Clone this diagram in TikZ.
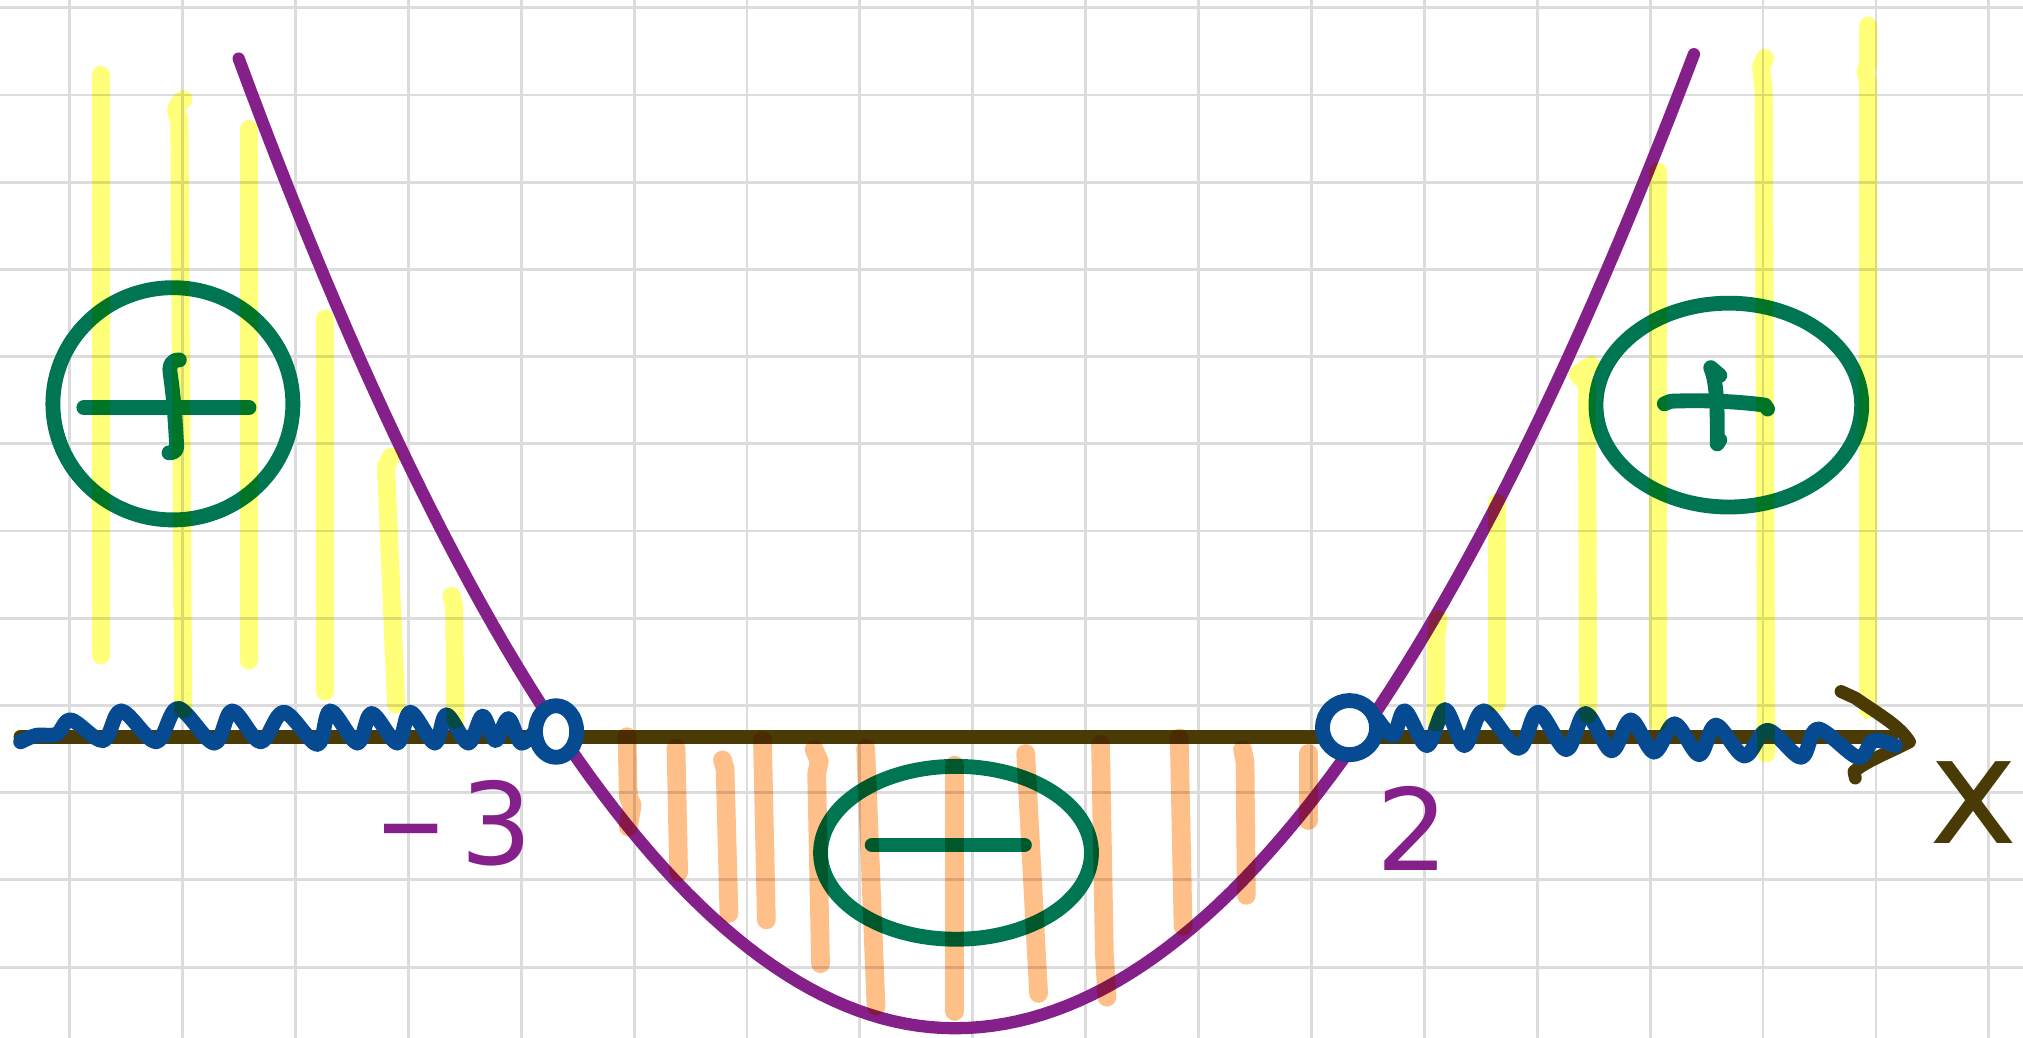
\documentclass[tikz,border=0pt]{standalone}
\usepackage{fontspec}
\newfontfamily\handfont{DejaVu Sans}
\definecolor{gridc}{HTML}{DCDCDC}
\definecolor{axisc}{HTML}{4A3A05}
\definecolor{parab}{HTML}{85208A}
\definecolor{signc}{HTML}{007552}
\definecolor{wavec}{HTML}{064A91}
\definecolor{hlyellow}{HTML}{FFFF7A}
\definecolor{hlorange}{HTML}{FFBF88}
\begin{document}
\begin{tikzpicture}[x=0.01cm,y=-0.01cm, line cap=round, line join=round,
  gridline/.style={gridc, line width=0.022cm},
  axisline/.style={axisc, line width=0.11cm},
  curve/.style={parab, line width=0.095cm},
  sign/.style={signc, line width=0.115cm},
  wave/.style={wavec, line width=0.115cm},
  hly/.style={hlyellow, line width=0.14cm},
  hlo/.style={hlorange, line width=0.145cm},
  lbl/.style={font=\handfont\fontsize{25}{25}\selectfont, inner sep=0pt}]
\fill[white] (0,0) rectangle (1568,804);
\useasboundingbox (0,0) rectangle (1568,804);
% grid
\foreach \gx in {0,...,17} \draw[gridline] ({54+87.5*\gx},0) -- ({54+87.5*\gx},804);
\foreach \gy in {0,...,11} \draw[gridline] (0,{6+67.6*\gy}) -- (1568,{6+67.6*\gy});
% axis
\coordinate (axL) at (16,571);
\coordinate (axR) at (1466,571);
\draw[axisline] (axL) -- (axR);
\draw[axisline, line width=0.10cm] (1427,536) -- (1438,541) .. controls (1455,553) and (1472,562) .. (1480,575)
  .. controls (1465,583) and (1448,589) .. (1437,598) -- (1438,603);
% parabola
\draw[curve] plot[domain=-5.55:0, samples=60] ({740+100*\x},{797-24.4*\x*\x})
  -- plot[domain=0:5.73, samples=60] ({740+100*\x},{797-23*\x*\x});
% signs
\draw[sign] (134,313) ellipse [x radius=93, y radius=90];
\draw[sign] (65,316) -- (193,316);
\draw[sign] (139,279) .. controls (132,279) and (131,284) .. (132,290)
  .. controls (135,310) and (136,330) .. (137,346) .. controls (137,350) and (134,351) .. (131,351);
\draw[sign] (741,661) ellipse [x radius=105, y radius=67];
\draw[sign] (676,655) -- (794,655);
\draw[sign] (1340,314) ellipse [x radius=103, y radius=79];
\draw[sign] (1290,313) -- (1295,311) .. controls (1320,310) and (1345,311) .. (1368,314) -- (1370,317);
\draw[sign] (1333,291) -- (1326,285) .. controls (1330,295) and (1331,310) .. (1331,330) -- (1331,344) -- (1333,341);
% waves
\draw[wave] plot[smooth, tension=0.55] coordinates {(16,575) (28,570) (44,569) (55,558) (80,574) (94,551) (121,575) (138,549) (166,576) (180,551) (202,575) (220,552) (246,577) (256,551) (277,576) (288,553) (308,576) (318,552) (337,576) (346,554) (363,576) (374,555) (384,574) (394,557) (404,576) (416,565)};
\draw[wave] plot[smooth, tension=0.55] coordinates {(1068,558) (1080,570) (1089,551) (1106,578) (1120,550) (1135,578) (1150,551) (1177,580) (1192,552) (1214,581) (1229,553) (1249,582) (1264,558) (1282,583) (1298,561) (1317,585) (1330,562) (1352,586) (1370,566) (1396,587) (1409,565) (1440,587) (1452,574) (1469,578)};
\draw[wave, fill=white] (431,567) ellipse [x radius=16, y radius=20];
\draw[wave, fill=white] (1046,564) ellipse [x radius=21, y radius=21];
% labels
\node[lbl, text=parab] (rootL) at (352,638) {\scalebox{0.75}[1]{−}\hspace{0.12em}3};
\node[lbl, text=parab] (rootR) at (1095,642) {2};
\node[lbl, text=axisc, font=\handfont\fontsize{33}{33}\selectfont] (xlab) at (1530,622) {x};
% highlighter strokes
\begin{scope}[blend mode=multiply]
\draw[hly] (78,58) -- (78,508);
\draw[hly] (142,77) .. controls (136,82) and (135,88) .. (139,92) -- (142,550);
\draw[hly] (193,100) -- (193,512);
\draw[hly] (252,247) -- (252,536);
\draw[hly] (303,354) -- (299,362) -- (300,380) -- (307,546);
\draw[hly] (350,462) -- (352,470) -- (353,558);
\draw[hly] (1115,480) -- (1113,495) -- (1113,560);
\draw[hly] (1160,390) -- (1160,545);
\draw[hly] (1233,283) -- (1223,290) -- (1230,298) -- (1231,554);
\draw[hly] (1285,133) -- (1285,560);
\draw[hly] (1368,45) -- (1365,52) -- (1367,70) -- (1369,584);
\draw[hly] (1448,20) -- (1448,50) -- (1446,56) -- (1448,64) -- (1448,550);
\draw[hlo] (486,571) -- (487,618) -- (490,624) -- (487,641);
\draw[hlo] (524,580) -- (526,676);
\draw[hlo] (560,589) -- (562,596) -- (565,708);
\draw[hlo] (591,574) -- (594,713);
\draw[hlo] (631,581) -- (635,590) -- (633,600) -- (636,747);
\draw[hlo] (671,580) -- (679,780);
\draw[hlo] (740,593) -- (740,784);
\draw[hlo] (795,584) -- (805,770);
\draw[hlo] (853,577) -- (856,740) -- (858,773);
\draw[hlo] (914,572) -- (917,718);
\draw[hlo] (963,581) -- (965,590) -- (966,694);
\draw[hlo] (1014,584) -- (1014,636);
\end{scope}
\end{tikzpicture}
\end{document}
